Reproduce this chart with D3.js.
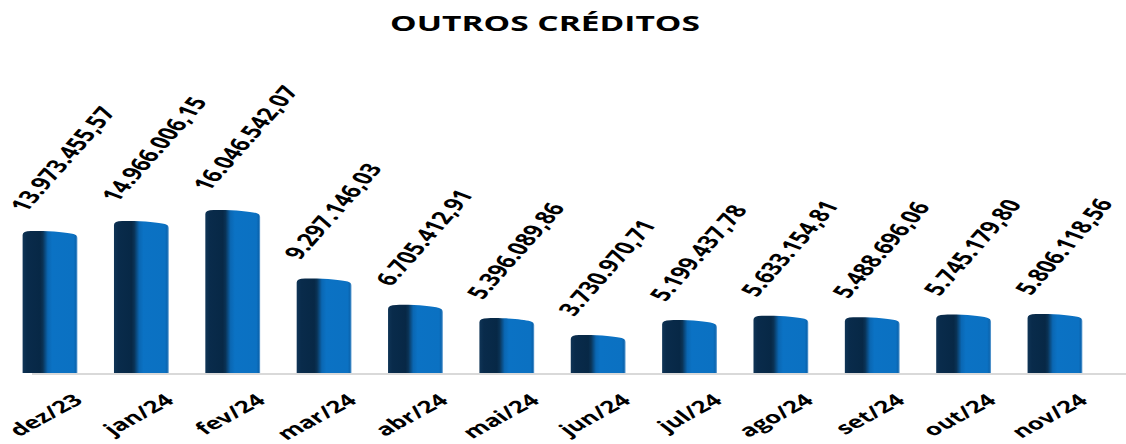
<!DOCTYPE html>
<html>
<head>
<meta charset="utf-8">
<script src="https://cdn.jsdelivr.net/npm/d3@7"></script>
<style>
    body { margin: 0; background: #fff; }
    text { font-family: "Open Sans", sans-serif; }
</style>
</head>
<body>
<div id="chart-area"></div>
<script>
// Data
var months = ["dez/23", "jan/24", "fev/24", "mar/24", "abr/24", "mai/24",
    "jun/24", "jul/24", "ago/24", "set/24", "out/24", "nov/24"];
var values = [13973455.57, 14966006.15, 16046542.07, 9297146.03, 6705412.91, 5396089.86,
    3730970.71, 5199437.78, 5633154.81, 5488696.06, 5745179.80, 5806118.56];
var title = "OUTROS CRÉDITOS";

var data = months.map((m, i) => ({ month: m, value: values[i] }));

var width = 1126;
var height = 444;
// the original picture is stretched sideways, so draw in a narrow space and scale it
var stretch = 1.55;

var svg = d3.select("#chart-area")
    .append("svg")
    .attr("width", width)
    .attr("height", height);

var defs = svg.append("defs");
var grad = defs.append("linearGradient")
    .attr("id", "barGrad")
    .attr("x1", "0").attr("x2", "1")
    .attr("y1", "0").attr("y2", "0");
[
    ["0%", "#0f3456"], ["8%", "#092b4b"], ["32%", "#072846"], ["37%", "#0a3356"],
    ["46%", "#0a67b3"], ["54%", "#0b72c4"], ["93%", "#0b71c2"], ["97%", "#0a65b0"],
    ["100%", "#6ea6d6"]
].forEach((s) => {
    grad.append("stop").attr("offset", s[0]).attr("stop-color", s[1]);
});

var g = svg.append("g")
    .attr("transform", "scale(" + stretch + ",1)");

// SCALES
var x = d3.scaleBand()
    .domain(months)
    .range([2.8, 710.1])
    .paddingInner(0.4)
    .paddingOuter(0.2);

var base = 373;
var y = d3.scaleLinear()
    .domain([0, 18000000])
    .range([base, base - 18 * 10.158]);

var fmt = d3.formatLocale({ decimal: ",", thousands: ".", grouping: [3], currency: ["R$", ""] })
    .format(",.2f");

// Title
g.append("text")
    .attr("x", 545 / stretch)
    .attr("y", 31)
    .attr("text-anchor", "middle")
    .attr("font-size", "21px")
    .attr("font-weight", "bold")
    .attr("textLength", 310 / stretch)
    .attr("lengthAdjust", "spacingAndGlyphs")
    .style("fill", "#000")
    .text(title);

// Axis line
var axis = d3.axisBottom(x).tickSize(0).tickFormat("");
g.append("g")
    .attr("class", "bottom axis")
    .attr("transform", "translate(0, " + (base + 1) + ")")
    .call(axis)
    .call((a) => a.select(".domain")
        .attr("d", "M" + (32 / stretch) + ",0H" + (width / stretch))
        .attr("stroke", "#d9d9d9")
        .attr("stroke-width", 2));

// Bars (rounded 3d-looking top)
function barPath(d) {
    var x0 = x(d.month);
    var w = x.bandwidth();
    var x1 = x0 + w;
    var top = y(d.value);
    return "M" + x0 + "," + base +
        "L" + x0 + "," + (top + 4) +
        "Q" + x0 + "," + top + " " + (x0 + 0.15 * w) + "," + top +
        "C" + (x0 + 0.5 * w) + "," + (top - 0.5) + " " + (x0 + 0.8 * w) + "," + (top + 1.5) + " " + (x0 + 0.93 * w) + "," + (top + 3) +
        "Q" + x1 + "," + (top + 4) + " " + x1 + "," + (top + 7) +
        "L" + x1 + "," + base + "Z";
}

g.selectAll("path.bar")
    .data(data)
    .enter()
    .append("path")
    .attr("class", "bar")
    .attr("d", barPath)
    .attr("fill", "url(#barGrad)");

// Value labels
g.selectAll("text.value")
    .data(data)
    .enter()
    .append("text")
    .attr("class", "value")
    .attr("transform", (d) => "translate(" + (x(d.month) + x.bandwidth() / 2 - 15.5) + "," + (y(d.value) - 18) + ") rotate(-60)")
    .attr("font-size", "17.8px")
    .attr("font-weight", "bold")
    .style("fill", "#000")
    .text((d) => fmt(d.value));

// Category labels
g.selectAll("text.month")
    .data(data)
    .enter()
    .append("text")
    .attr("class", "month")
    .attr("transform", (d) => "translate(" + (x(d.month) + x.bandwidth() / 2 + 22) + ",402) rotate(-40)")
    .attr("text-anchor", "end")
    .attr("font-size", "16.8px")
    .attr("font-weight", "bold")
    .style("fill", "#000")
    .text((d) => d.month);
</script>
</body>
</html>
